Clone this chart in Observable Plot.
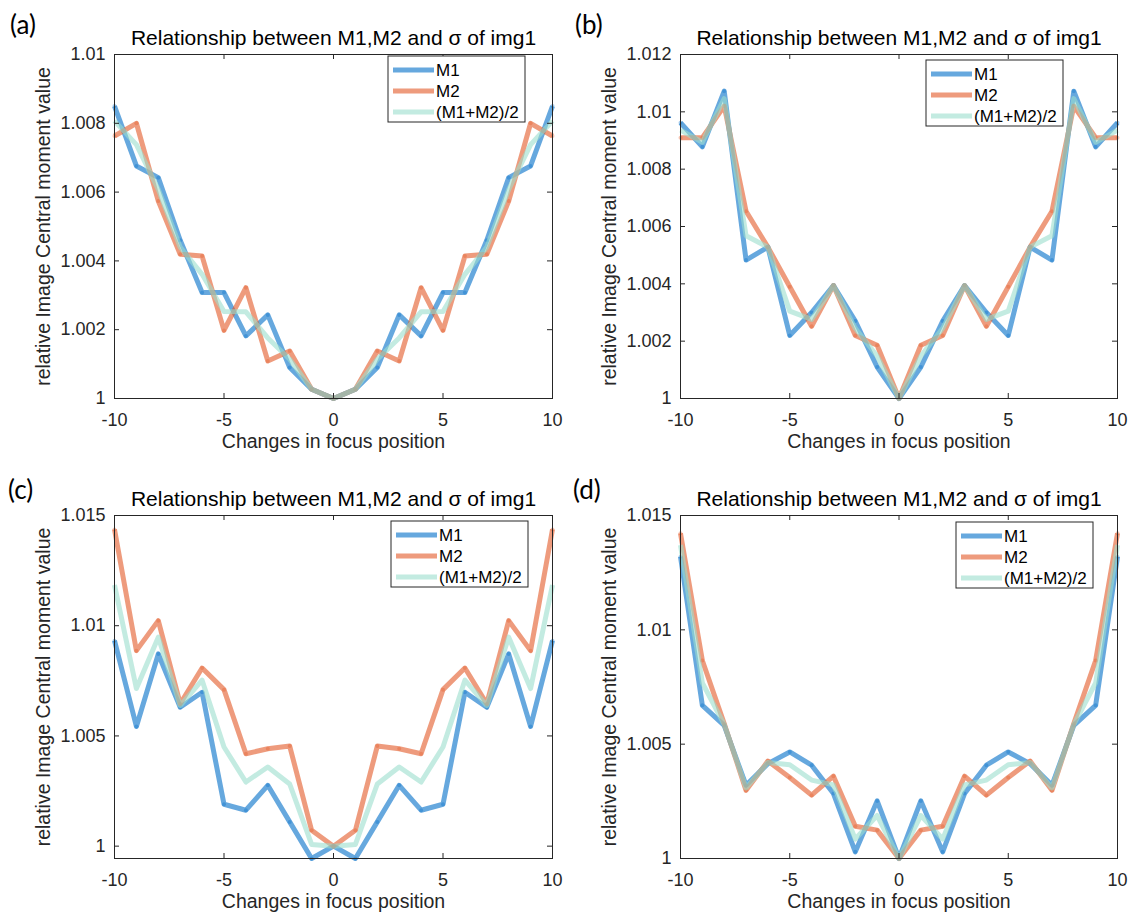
<!DOCTYPE html>
<html><head><meta charset="utf-8">
<script src="https://cdn.jsdelivr.net/npm/d3@7"></script>
<script src="https://cdn.jsdelivr.net/npm/@observablehq/plot@0.6"></script>
<style>
body{margin:0;background:#fff;}
#root{position:relative;width:1132px;height:914px;overflow:hidden;background:#fff;}
.panel{position:absolute;}
.plabel{position:absolute;font-family:Lato,"Open Sans",sans-serif;font-size:26px;color:#000;line-height:1;}
</style></head><body><div id="root"></div>
<script>
// ---------- data ----------
const xs = [-10,-9,-8,-7,-6,-5,-4,-3,-2,-1,0,1,2,3,4,5,6,7,8,9,10];
const seriesNames = ["M1","M2","(M1+M2)/2"];
const xTicks = [-10,-5,0,5,10];
const xTickLabels = ["-10","-5","0","5","10"];

const aM1 = [1.0085,1.00676,1.00642,1.0046,1.00308,1.00308,1.00182,1.00243,1.0009,1.00027,1.0,1.00027,1.0009,1.00243,1.00182,1.00308,1.00308,1.0046,1.00642,1.00676,1.0085];
const aM2 = [1.00763,1.0080,1.00574,1.00419,1.00414,1.00198,1.00322,1.00109,1.00138,1.00027,1.0,1.00027,1.00138,1.00109,1.00322,1.00198,1.00414,1.00419,1.00574,1.0080,1.00763];
const aMean = [1.00807,1.00738,1.00608,1.0044,1.00361,1.00253,1.00252,1.00176,1.00114,1.00027,1.0,1.00027,1.00114,1.00176,1.00252,1.00253,1.00361,1.0044,1.00608,1.00738,1.00807];
const aYTicks = [1,1.002,1.004,1.006,1.008,1.01];
const aYTickLabels = ["1","1.002","1.004","1.006","1.008","1.01"];

const bM1 = [1.00962,1.00878,1.01072,1.00483,1.00528,1.0022,1.0030,1.00394,1.0027,1.0011,1.0,1.0011,1.0027,1.00394,1.0030,1.0022,1.00528,1.00483,1.01072,1.00878,1.00962];
const bM2 = [1.0091,1.0091,1.0102,1.00653,1.00528,1.0039,1.00252,1.00394,1.0022,1.00186,1.0,1.00186,1.0022,1.00394,1.00252,1.0039,1.00528,1.00653,1.0102,1.0091,1.0091];
const bMean = [1.00936,1.00894,1.01046,1.00568,1.00528,1.00305,1.00276,1.00394,1.00245,1.00148,1.0,1.00148,1.00245,1.00394,1.00276,1.00305,1.00528,1.00568,1.01046,1.00894,1.00936];
const bYTicks = [1,1.002,1.004,1.006,1.008,1.01,1.012];
const bYTickLabels = ["1","1.002","1.004","1.006","1.008","1.01","1.012"];

const cM1 = [1.00932,1.00543,1.00872,1.0063,1.00698,1.0019,1.00163,1.00276,1.0011,0.99944,1.0,0.99944,1.0011,1.00276,1.00163,1.0019,1.00698,1.0063,1.00872,1.00543,1.00932];
const cM2 = [1.01437,1.00887,1.01023,1.00646,1.00808,1.0071,1.00419,1.00442,1.00454,1.00072,1.0,1.00072,1.00454,1.00442,1.00419,1.0071,1.00808,1.00646,1.01023,1.00887,1.01437];
const cMean = [1.01185,1.00715,1.00948,1.00638,1.00753,1.0045,1.00291,1.00359,1.00282,1.00008,1.0,1.00008,1.00282,1.00359,1.00291,1.0045,1.00753,1.00638,1.00948,1.00715,1.01185];
const cYTicks = [1,1.005,1.01,1.015];
const cYTickLabels = ["1","1.005","1.01","1.015"];

const dM1 = [1.0132,1.0067,1.00582,1.0032,1.00415,1.00466,1.00408,1.00284,1.00029,1.00252,1.0,1.00252,1.00029,1.00284,1.00408,1.00466,1.00415,1.0032,1.00582,1.0067,1.0132];
const dM2 = [1.01422,1.00866,1.0059,1.00298,1.00426,1.00354,1.00277,1.0036,1.00141,1.00124,1.0,1.00124,1.00141,1.0036,1.00277,1.00354,1.00426,1.00298,1.0059,1.00866,1.01422];
const dMean = [1.01371,1.00768,1.00586,1.00309,1.0042,1.0041,1.00343,1.00322,1.00085,1.00188,1.0,1.00188,1.00085,1.00322,1.00343,1.0041,1.0042,1.00309,1.00586,1.00768,1.01371];
const dYTicks = [1,1.005,1.01,1.015];
const dYTickLabels = ["1","1.005","1.01","1.015"];

const titleText = "Relationship between M1,M2 and σ of img1";
const xLabelText = "Changes in focus position";
const yLabelText = "relative Image Central moment value";
const panelLetters = ["(a)","(b)","(c)","(d)"];

// ---------- styles ----------
const colors = ["#006EC8","#E35826","#9BDECD"];
const lineOpacity = 0.6;
const axisColor = "#262626";
const font = "'Liberation Sans', Arial, sans-serif";

const panels = [
  {left:0, top:0, ml:114, mr:14, mt:54, mb:59, vals:[aM1,aM2,aMean], yDomain:[1,1.01], yTicks:aYTicks, yLabels:aYTickLabels, legRight:27, legTop:2, letterX:10, letterY:11},
  {left:566, top:0, ml:114, mr:15, mt:54, mb:59, vals:[bM1,bM2,bMean], yDomain:[1,1.012], yTicks:bYTicks, yLabels:bYTickLabels, legRight:54, legTop:6, letterX:575, letterY:11},
  {left:0, top:457, ml:114, mr:14, mt:58, mb:56, vals:[cM1,cM2,cMean], yDomain:[0.99944,1.015], yTicks:cYTicks, yLabels:cYTickLabels, legRight:24, legTop:6, letterX:8, letterY:476},
  {left:566, top:457, ml:114, mr:15, mt:58, mb:56, vals:[dM1,dM2,dMean], yDomain:[1,1.015], yTicks:dYTicks, yLabels:dYTickLabels, legRight:24, legTop:7, letterX:573, letterY:476}
];

const root = document.getElementById("root");
const W = 566, H = 457;

panels.forEach((p, pi) => {
  const fw = W - p.ml - p.mr, fh = H - p.mt - p.mb;
  const lineMarks = [];
  p.vals.forEach((vals, si) => {
    const rows = xs.map((x, j) => ({x, y: vals[j]}));
    lineMarks.push(Plot.line(rows, {x: "x", y: "y", stroke: colors[si], strokeOpacity: lineOpacity, strokeWidth: 5, strokeLinejoin: "round", strokeLinecap: "butt"}));
    if (si < 2) lineMarks.push(Plot.dot(rows, {x: "x", y: "y", r: 2, fill: colors[si], fillOpacity: 0.35, stroke: null}));
  });
  const chart = Plot.plot({
    width: W, height: H,
    marginLeft: p.ml, marginRight: p.mr, marginTop: p.mt, marginBottom: p.mb,
    style: {fontFamily: font, fontSize: "18px", color: axisColor, background: "transparent", overflow: "visible"},
    x: {domain: [-10, 10], label: null},
    y: {domain: p.yDomain, label: null},
    marks: [
      ...lineMarks,
      Plot.frame({stroke: axisColor, strokeWidth: 1}),
      Plot.tickX(xTicks, {x: d => d, insetTop: fh - 5, stroke: axisColor}),
      Plot.tickX(xTicks, {x: d => d, insetBottom: fh - 5, stroke: axisColor}),
      Plot.tickY(p.yTicks, {y: d => d, insetLeft: fw - 5, stroke: axisColor}),
      Plot.tickY(p.yTicks, {y: d => d, insetRight: fw - 5, stroke: axisColor}),
      Plot.axisX(xTicks, {tickSize: 0, tickPadding: 15, fontSize: 18, fill: axisColor, tickFormat: d => xTickLabels[xTicks.indexOf(d)]}),
      Plot.axisY(p.yTicks, {tickSize: 0, tickPadding: 9, fontSize: 18, fill: axisColor, tickFormat: d => p.yLabels[p.yTicks.indexOf(d)]}),
      Plot.text([titleText], {text: d => d, frameAnchor: "top", dy: -16, fontSize: 21, fill: "#000", lineAnchor: "middle", textAnchor: "middle"}),
      Plot.text([xLabelText], {text: d => d, frameAnchor: "bottom", dy: 43, fontSize: 19.5, fill: axisColor, lineAnchor: "middle", textAnchor: "middle"}),
      Plot.text([yLabelText], {text: d => d, frameAnchor: "left", dx: -71, rotate: -90, fontSize: 19.5, fill: axisColor, lineAnchor: "middle", textAnchor: "middle"})
    ]
  });
  const wrap = document.createElement("div");
  wrap.className = "panel";
  wrap.style.left = p.left + "px";
  wrap.style.top = p.top + "px";
  wrap.appendChild(chart);
  root.appendChild(wrap);

  // legend inside the axes (northeast)
  const lw = 137, lh = 66;
  const lx = p.ml + fw - p.legRight - lw, ly = p.mt + p.legTop;
  const g = d3.select(chart).append("g").attr("transform", `translate(${lx},${ly})`);
  g.append("rect").attr("width", lw).attr("height", lh).attr("fill", "#fff").attr("stroke", axisColor).attr("stroke-width", 1);
  seriesNames.forEach((name, i) => {
    const yy = 14 + i * 21;
    g.append("line").attr("x1", 5).attr("x2", 46).attr("y1", yy).attr("y2", yy)
      .attr("stroke", colors[i]).attr("stroke-opacity", lineOpacity).attr("stroke-width", 5);
    g.append("text").attr("x", 48).attr("y", yy).attr("dy", "0.35em")
      .attr("text-anchor", "start")
      .attr("font-family", font).attr("font-size", 17).attr("fill", "#000").text(name);
  });

  const lab = document.createElement("div");
  lab.className = "plabel";
  lab.style.left = p.letterX + "px";
  lab.style.top = p.letterY + "px";
  lab.textContent = panelLetters[pi];
  root.appendChild(lab);
});
</script>
</body></html>
